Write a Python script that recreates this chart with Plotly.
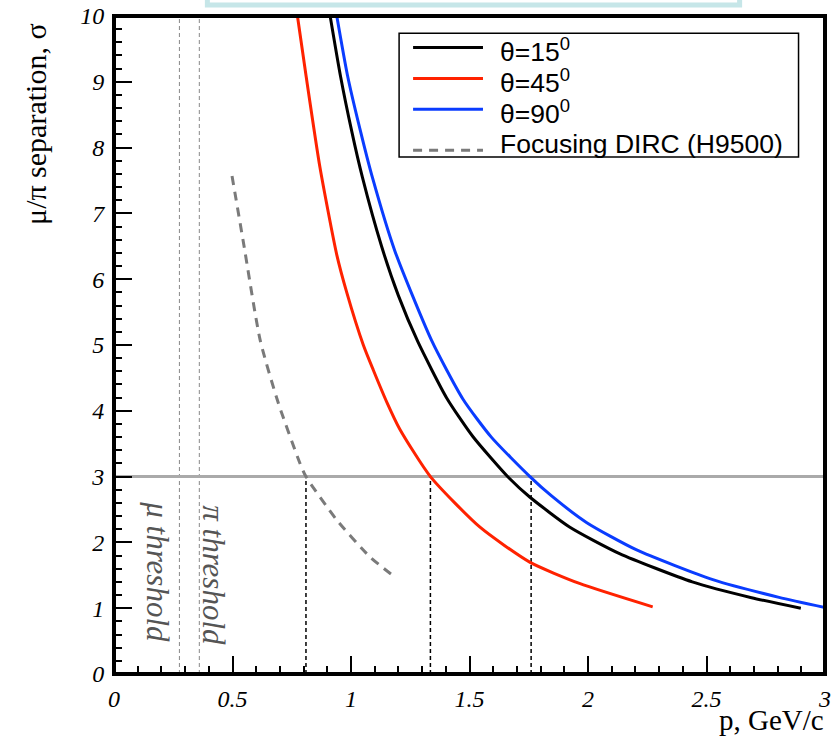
import plotly.graph_objects as go

# theta = 15 deg (black)
p_15 = [0.912, 0.955, 1.003, 1.048, 1.129, 1.20, 1.282, 1.403, 1.514, 1.669, 1.754, 1.922, 2.133, 2.44, 2.69, 2.898]
s_15 = [10.0, 9.1, 8.25, 7.55, 6.5, 5.75, 5.05, 4.2, 3.61, 2.97, 2.69, 2.235, 1.83, 1.40, 1.16, 1.0]

# theta = 45 deg (red)
p_45 = [0.774, 0.81, 0.869, 0.94, 0.982, 1.052, 1.094, 1.15, 1.206, 1.335, 1.543, 1.754, 1.964, 2.273]
s_45 = [10.0, 9.1, 7.7, 6.37, 5.8, 5.0, 4.62, 4.14, 3.72, 3.0, 2.235, 1.70, 1.376, 1.02]

# theta = 90 deg (blue)
p_90 = [0.94, 0.985, 1.04, 1.09, 1.185, 1.34, 1.472, 1.592, 1.755, 1.845, 1.995, 2.203, 2.53, 2.806, 3.0]
s_90 = [10.0, 9.1, 8.25, 7.55, 6.43, 5.07, 4.18, 3.6, 3.0, 2.71, 2.3, 1.89, 1.43, 1.165, 1.01]

# Focusing DIRC (H9500), grey dashed
p_dirc = [0.498, 0.547, 0.617, 0.694, 0.785, 0.81, 0.94, 1.08, 1.19]
s_dirc = [7.57, 6.54, 5.07, 4.11, 3.2, 3.0, 2.34, 1.78, 1.46]

# 3 sigma crossings and Cherenkov thresholds
cross_p = [0.81, 1.335, 1.76]
sigma_level = 3.0
thresh_p = [0.276, 0.36]
thresh_names = ["μ threshold", "π threshold"]

x_ticks = [0, 0.5, 1, 1.5, 2, 2.5, 3]
x_ticktext = ["0", "0.5", "1", "1.5", "2", "2.5", "3"]
y_ticks = list(range(0, 11))

legend_names = ["θ=15<sup>0</sup>", "θ=45<sup>0</sup>", "θ=90<sup>0</sup>", "Focusing DIRC (H9500)"]

RED = "#ff2200"
BLUE = "#0a3cff"
GREY = "#7a7a7a"

# page geometry, body margin is removed so page pixels == figure pixels
W, H = 834, 739
PL, PT, PR, PB = 113.5, 15.5, 825.5, 674.5   # plot area
PW, PH = PR - PL, PB - PT


def xp(px):
    return (px - PL) / PW


def yp(py):
    return (PB - py) / PH


fig = go.Figure()

# threshold lines
for xv in thresh_p:
    fig.add_trace(go.Scatter(x=[xv, xv], y=[0, 10], mode="lines",
                             line=dict(color="#888888", width=1, dash="4px,3px"),
                             showlegend=False, hoverinfo="skip"))

# 3 sigma level
fig.add_trace(go.Scatter(x=[0, 3], y=[sigma_level, sigma_level], mode="lines",
                         line=dict(color="#aaaaaa", width=3),
                         showlegend=False, hoverinfo="skip"))

# crossings
for xv in cross_p:
    fig.add_trace(go.Scatter(x=[xv, xv], y=[0, sigma_level], mode="lines",
                             line=dict(color="black", width=1.5, dash="4px,3px"),
                             showlegend=False, hoverinfo="skip"))

curve_line = dict(shape="spline", smoothing=0.6)
fig.add_trace(go.Scatter(x=p_dirc, y=s_dirc, mode="lines",
                         line=dict(color=GREY, width=3, dash="9px,7px", **curve_line), showlegend=False))
fig.add_trace(go.Scatter(x=p_45, y=s_45, mode="lines",
                         line=dict(color=RED, width=3, **curve_line), showlegend=False))
fig.add_trace(go.Scatter(x=p_15, y=s_15, mode="lines",
                         line=dict(color="black", width=3, **curve_line), showlegend=False))
fig.add_trace(go.Scatter(x=p_90, y=s_90, mode="lines",
                         line=dict(color=BLUE, width=3, **curve_line), showlegend=False))

tick_font = dict(family="Liberation Serif", size=24, color="black", style="italic")
axis_common = dict(automargin=False, showgrid=False, zeroline=False, showline=True, linewidth=2,
                   linecolor="black", mirror=False, ticks="inside", ticklen=18, tickwidth=1.5,
                   tickcolor="black", tickfont=tick_font, ticklabeloverflow="allow")

fig.update_xaxes(range=[0, 3], tickvals=x_ticks, ticktext=x_ticktext, ticklabelstandoff=2,
                 minor=dict(dtick=0.1, tick0=0, ticks="inside", ticklen=8, tickwidth=1.5, tickcolor="black"),
                 **axis_common)
fig.update_yaxes(range=[0, 10], tickvals=y_ticks, ticklabelstandoff=3,
                 minor=dict(dtick=0.2, tick0=0, ticks="inside", ticklen=8, tickwidth=1.5, tickcolor="black"),
                 **axis_common)

shapes = []
annotations = []

# heavy frame round the plot
shapes.append(dict(type="rect", xref="paper", yref="paper", x0=0, x1=1, y0=0, y1=1,
                   line=dict(color="black", width=4), layer="above"))

# clipped box at the very top of the page
shapes.append(dict(type="rect", xref="paper", yref="paper", x0=xp(207), x1=xp(740),
                   y0=yp(4.5), y1=yp(-30), line=dict(color="#c6e6e8", width=5)))

# legend
shapes.append(dict(type="rect", xref="paper", yref="paper", x0=xp(399), x1=xp(799),
                   y0=yp(156.7), y1=yp(32.7), line=dict(color="black", width=1.5),
                   fillcolor="white"))
leg_styles = [dict(color="black", width=3), dict(color=RED, width=3),
              dict(color=BLUE, width=3), dict(color=GREY, width=3, dash="9px,7px")]
leg_line_y = [47, 78, 109, 150]
leg_text_y = [50, 81, 112, 144]
for name, st, ly, ty in zip(legend_names, leg_styles, leg_line_y, leg_text_y):
    shapes.append(dict(type="line", xref="paper", yref="paper", x0=xp(413), x1=xp(483),
                       y0=yp(ly), y1=yp(ly), line=st))
    annotations.append(dict(text=name, xref="paper", yref="paper", x=xp(498), y=yp(ty),
                            xanchor="left", yanchor="middle", showarrow=False,
                            font=dict(family="Liberation Sans", size=26.5, color="black")))

# threshold labels
thr_pos = [(157, 572), (213, 576)]
for name, (px, py) in zip(thresh_names, thr_pos):
    annotations.append(dict(text=name, xref="paper", yref="paper", x=xp(px), y=yp(py),
                            xanchor="center", yanchor="middle", textangle=90, showarrow=False,
                            font=dict(family="Liberation Serif", size=31, color="#555555",
                                      style="italic")))

# axis titles
annotations.append(dict(text="μ/π separation, σ", xref="paper", yref="paper", x=xp(35), y=yp(124),
                        xanchor="center", yanchor="middle", textangle=-90, showarrow=False,
                        font=dict(family="Liberation Serif", size=30, color="black")))
annotations.append(dict(text="p, GeV/c", xref="paper", yref="paper", x=xp(827), y=yp(721),
                        xanchor="right", yanchor="middle", showarrow=False,
                        font=dict(family="Liberation Serif", size=29, color="black")))

fig.update_layout(width=W, height=H,
                  margin=dict(l=PL, r=W - PR, t=PT, b=H - PB),
                  paper_bgcolor="white", plot_bgcolor="white",
                  shapes=shapes, annotations=annotations, showlegend=False)

fig.write_html("out.html", config={"displayModeBar": False},
               post_script="document.body.style.margin='0';")
